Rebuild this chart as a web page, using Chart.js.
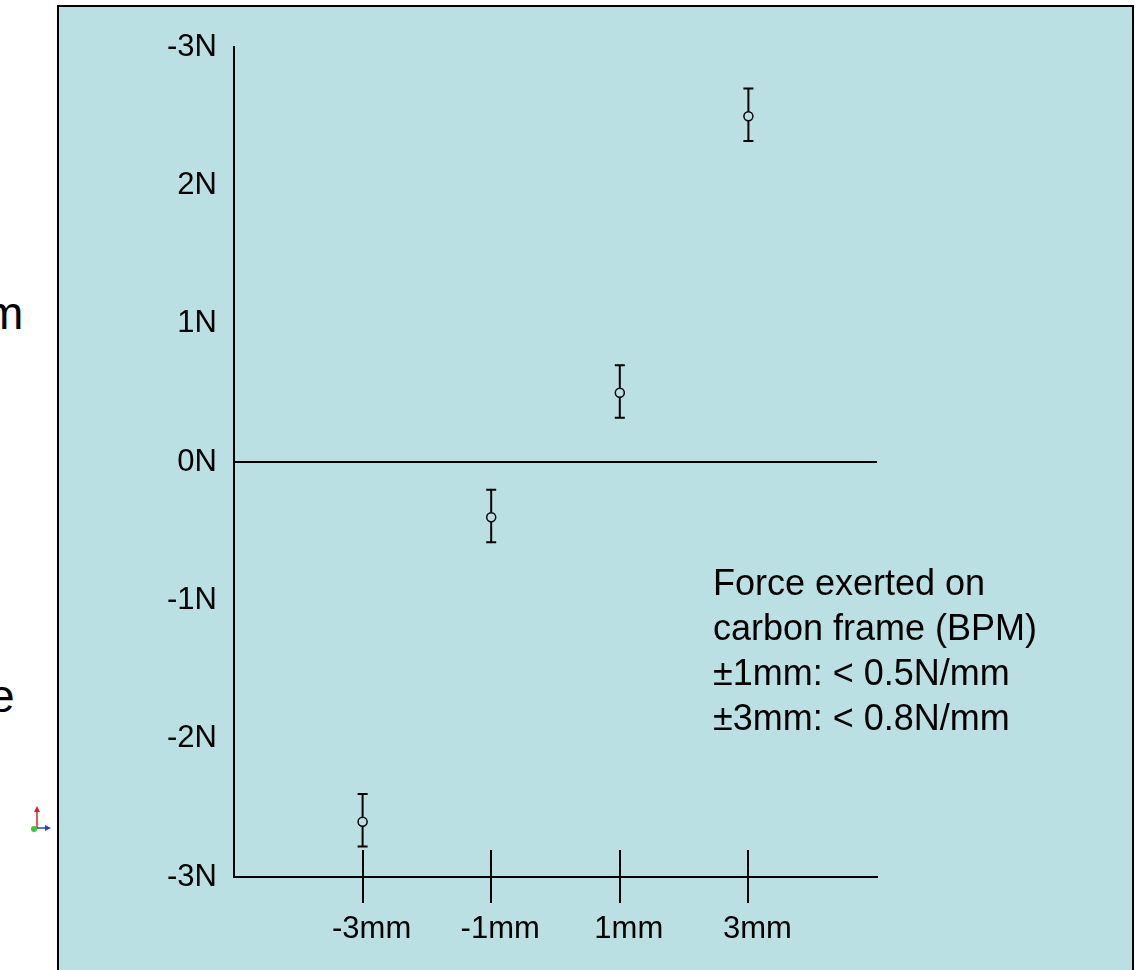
<!DOCTYPE html>
<html>
<head>
<meta charset="utf-8">
<script src="https://cdn.jsdelivr.net/npm/chart.js@4.4.1/dist/chart.umd.min.js"></script>
<style>
    html, body { margin: 0; padding: 0; background: #fff; }
    body { width: 1135px; height: 970px; position: relative; overflow: hidden; font-family: "Liberation Sans", Arial, sans-serif; }
    #panel { position: absolute; left: 57px; top: 5px; width: 1073px; height: 1000px; background: #bae0e3; border: 2px solid #000; }
    #chartWrap { position: absolute; left: 0; top: 0; width: 1135px; height: 970px; }
    .note { position: absolute; left: 713px; top: 560px; font-size: 36px; line-height: 45px; color: #000; white-space: nowrap; }
    .frag { position: absolute; font-size: 46px; line-height: 46px; color: #000; }
    #icon { position: absolute; left: 28px; top: 804px; }
</style>
</head>
<body>
<div id="panel"></div>
<span class="frag" style="left:-15px; top:290px;">m</span>
<span class="frag" style="left:-11px; top:673px;">e</span>
<svg id="icon" width="24" height="30" viewBox="0 0 24 30">
    <line x1="9" y1="24" x2="9" y2="6" stroke="#d22" stroke-width="1.5"/>
    <polygon points="6,8 9,2 12,8" fill="#d22"/>
    <line x1="9" y1="24" x2="18" y2="24" stroke="#24c" stroke-width="1.5"/>
    <polygon points="17,21 23,24 17,27" fill="#24c"/>
    <circle cx="6" cy="25" r="3" fill="#3c3"/>
</svg>
<div id="chartWrap"><canvas id="forceChart" width="1135" height="970"></canvas></div>
<div class="note">Force exerted on<br>carbon frame (BPM)<br>±1mm: &lt; 0.5N/mm<br>±3mm: &lt; 0.8N/mm</div>

<script>
// offsets in mm and measured force in N
const offsets = [-3, -1, 1, 3];
const forces = [-2.6, -0.4, 0.5, 2.5];
const errTop = [-2.4, -0.2, 0.7, 2.7];
const errBottom = [-2.78, -0.58, 0.32, 2.32];

const xTickValues = [-3, -1, 1, 3];
const xTickLabels = ['-3mm', '-1mm', '1mm', '3mm'];
const yTickLabels = ['-3N', '-2N', '-1N', '0N', '1N', '2N', '-3N'];

const panelColor = '#bae0e3';

// error bars, drawn under the points so the hollow circles cover them
const errorBars = {
    id: 'errorBars',
    beforeDatasetsDraw(chart) {
        const { ctx, scales: { x, y } } = chart;
        ctx.save();
        ctx.strokeStyle = '#000';
        ctx.lineWidth = 2;
        offsets.forEach((v, i) => {
            const px = x.getPixelForValue(v);
            const top = y.getPixelForValue(errTop[i]);
            const bot = y.getPixelForValue(errBottom[i]);
            ctx.beginPath();
            ctx.moveTo(px, top); ctx.lineTo(px, bot);
            ctx.moveTo(px - 5, top); ctx.lineTo(px + 5, top);
            ctx.moveTo(px - 5, bot); ctx.lineTo(px + 5, bot);
            ctx.stroke();
        });
        ctx.restore();
    }
};

// x tick marks crossing the axis line
const crossTicks = {
    id: 'crossTicks',
    afterDraw(chart) {
        const { ctx, scales: { x } } = chart;
        const axisY = chart.chartArea.bottom;
        ctx.save();
        ctx.strokeStyle = '#000';
        ctx.lineWidth = 2;
        xTickValues.forEach(v => {
            const px = Math.round(x.getPixelForValue(v));
            ctx.beginPath();
            ctx.moveTo(px, axisY - 27);
            ctx.lineTo(px, axisY + 26);
            ctx.stroke();
        });
        ctx.restore();
    }
};

Chart.defaults.font.family = '"Liberation Sans", Arial, sans-serif';
Chart.defaults.color = '#000';

new Chart(document.getElementById('forceChart'), {
    type: 'scatter',
    data: {
        datasets: [{
            data: offsets.map((v, i) => ({ x: v, y: forces[i] })),
            pointRadius: 4.5,
            pointBorderWidth: 1.5,
            pointBorderColor: '#000',
            pointBackgroundColor: panelColor,
            showLine: false
        }]
    },
    options: {
        responsive: false,
        animation: false,
        layout: { padding: { left: 0, top: 47, right: 258, bottom: 0 } },
        plugins: { legend: { display: false }, tooltip: { enabled: false } },
        scales: {
            x: {
                type: 'linear',
                min: -5,
                max: 5,
                afterBuildTicks: (scale) => { scale.ticks = xTickValues.map(v => ({ value: v })); },
                afterFit: (scale) => { scale.height = 93; },
                grid: { display: false },
                border: { display: true, color: '#000', width: 2 },
                ticks: {
                    font: { size: 31 },
                    padding: 26,
                    labelOffset: 9,
                    maxRotation: 0,
                    autoSkip: false,
                    callback: (value, index) => xTickLabels[index]
                }
            },
            y: {
                min: -3,
                max: 3,
                afterFit: (scale) => { scale.width = 234; },
                grid: {
                    drawTicks: false,
                    lineWidth: 2,
                    color: (c) => (c.tick && c.tick.value === 0 ? '#000' : 'rgba(0,0,0,0)')
                },
                border: { display: true, color: '#000', width: 2 },
                ticks: {
                    stepSize: 1,
                    font: { size: 31 },
                    padding: 17,
                    callback: (value, index) => yTickLabels[index]
                }
            }
        }
    },
    plugins: [errorBars, crossTicks]
});
</script>
</body>
</html>
